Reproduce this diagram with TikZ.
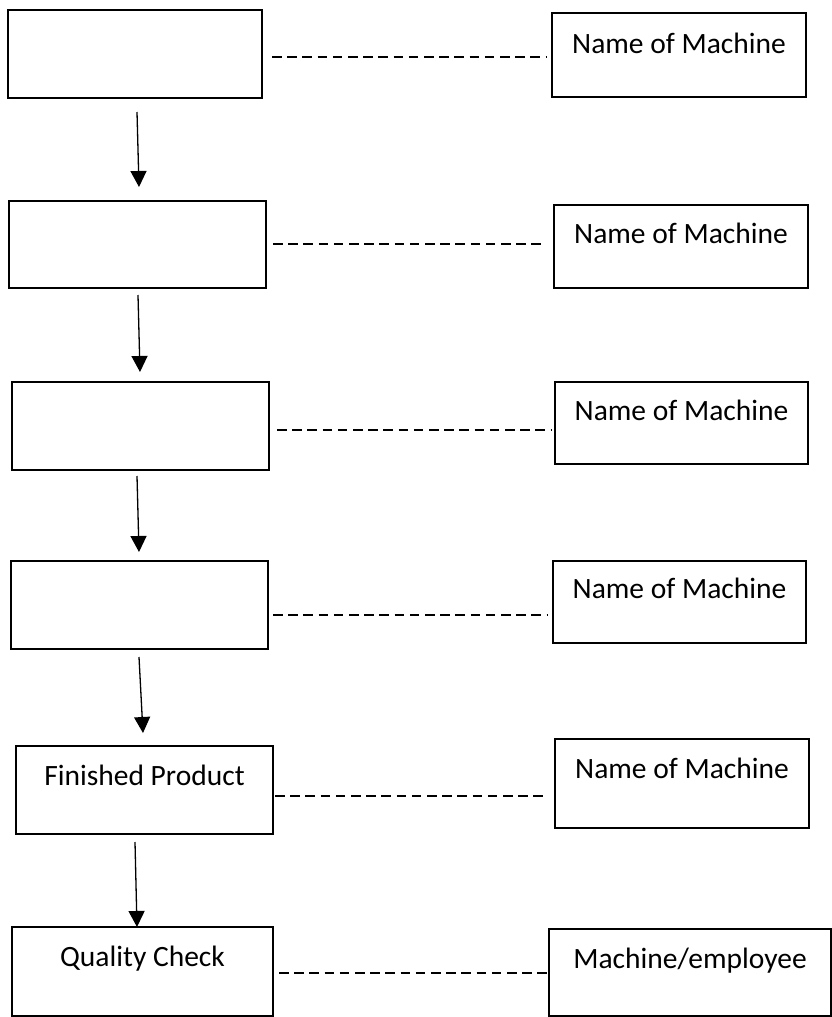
\documentclass[tikz,border=0pt]{standalone}
\usepackage{fontspec}
\setmainfont{Carlito}
\usetikzlibrary{arrows.meta,calc}
\begin{document}
\begin{tikzpicture}[x=1pt,y=-1pt,
  box/.style={draw, line width=1.3pt, rectangle, inner sep=0pt, outer sep=0pt,
    font=\fontsize{29.5}{34}\selectfont, text height=20pt},
  dashline/.style={line width=1.3pt, dash pattern=on 9.5pt off 5.7pt},
  flow/.style={line width=1.3pt, -{Triangle[width=16pt,length=16pt]}}]
\useasboundingbox (0,0) rectangle (832,1017);
% left column
\node[box, minimum width=254pt, minimum height=88pt] (L1) at (135,54) {};
\node[box, minimum width=257pt, minimum height=87pt] (L2) at (137.5,244.5) {};
\node[box, minimum width=257pt, minimum height=88pt] (L3) at (140.5,426) {};
\node[box, minimum width=257pt, minimum height=88pt] (L4) at (139.5,605) {};
\node[box, minimum width=257pt, minimum height=88pt, text depth=30pt] (L5) at (144.5,790) {Finished Product};
\node[box, minimum width=261pt, minimum height=89pt, text depth=31pt] (L6) at (142.5,971.5) {Quality Check};
% right column
\node[box, minimum width=254pt, minimum height=84pt, text depth=24pt] (R1) at (679,55) {Name of Machine};
\node[box, minimum width=254pt, minimum height=83pt, text depth=27pt] (R2) at (681,246.5) {Name of Machine};
\node[box, minimum width=253pt, minimum height=82pt, text depth=26pt] (R3) at (681.5,423) {Name of Machine};
\node[box, minimum width=253pt, minimum height=82pt, text depth=28pt] (R4) at (679.5,602) {Name of Machine};
\node[box, minimum width=254pt, minimum height=89pt, text depth=31pt] (R5) at (682,783.5) {Name of Machine};
\node[box, minimum width=282pt, minimum height=87pt, text depth=29pt] (R6) at (690,972.5) {Machine/employee};
% dashed connectors
\draw[dashline] ($(L1.east)+(10,3)$) coordinate (d1) -- ([xshift=-6pt]R1.west |- d1);
\draw[dashline] ($(L2.east)+(7,-0.5)$) coordinate (d2) -- ([xshift=-8pt]R2.west |- d2);
\draw[dashline] ($(L3.east)+(8,4)$) coordinate (d3) -- ([xshift=-4pt]R3.west |- d3);
\draw[dashline] ($(L4.east)+(5,10)$) coordinate (d4) -- ([xshift=-6pt]R4.west |- d4);
\draw[dashline] ($(L5.east)+(2,6)$) coordinate (d5) -- ([xshift=-7pt]R5.west |- d5);
\draw[dashline] ($(L6.east)+(6,1.5)$) coordinate (d6) -- ([xshift=1pt]R6.west |- d6);
% flow arrows
\draw[flow] ($(L1.south)+(2,14)$) -- ($(L2.north)+(1.5,-14)$);
\draw[flow] ($(L2.south)+(0.5,7)$) -- ($(L3.north)+(-0.5,-10)$);
\draw[flow] ($(L3.south)+(-3.5,6)$) -- ($(L4.north)+(-0.5,-9)$);
\draw[flow] ($(L4.south)+(-0.5,8)$) -- ($(L5.north)+(-1.5,-13)$);
\draw[flow] ($(L5.south)+(-9.5,8)$) -- ($(L6.north)+(-5.5,0)$);
\end{tikzpicture}
\end{document}
